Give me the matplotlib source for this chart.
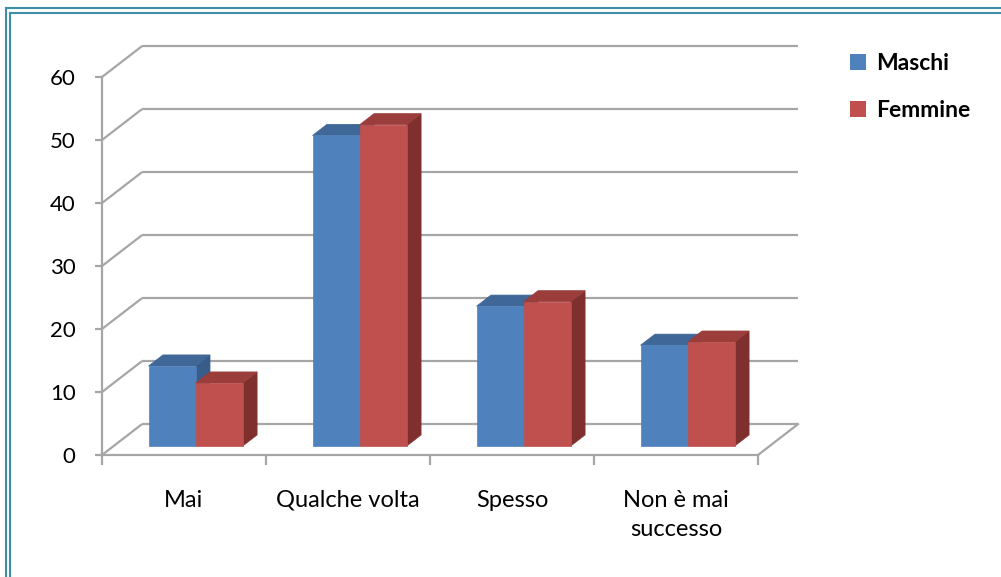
import matplotlib.pyplot as plt
from matplotlib.patches import Polygon, Patch
from matplotlib.lines import Line2D

categories = ["Mai", "Qualche volta", "Spesso", "Non è mai\nsuccesso"]
maschi = [12.7, 49.3, 22.2, 16.0]
femmine = [10.0, 51.0, 22.9, 16.5]
series_names = ["Maschi", "Femmine"]
y_ticks = [0, 10, 20, 30, 40, 50, 60]

plt.rcParams["font.family"] = ["Lato", "DejaVu Sans"]

# oblique depth of the box, in data units (category, value)
DX = 0.244
DY = 4.9
grid_col = "#a6a6a6"

# face colours: front, top, side
blue = ("#4f81bd", "#3f6797", "#385d8a")
red = ("#c0504d", "#9b3d3a", "#7f302e")


def proj(x, y, d):
    return (x + d * DX, y + d * DY)


def box(ax, x0, x1, h, cols, d0=0.29, d1=0.65):
    front = [proj(x0, 0, d0), proj(x1, 0, d0), proj(x1, h, d0), proj(x0, h, d0)]
    side = [proj(x1, 0, d0), proj(x1, 0, d1), proj(x1, h, d1), proj(x1, h, d0)]
    top = [proj(x0, h, d0), proj(x1, h, d0), proj(x1, h, d1), proj(x0, h, d1)]
    for pts, c in [(side, cols[2]), (top, cols[1]), (front, cols[0])]:
        ax.add_patch(Polygon(pts, closed=True, facecolor=c, edgecolor=c,
                             linewidth=0.5, zorder=3, clip_on=False))


fig = plt.figure(figsize=(10.01, 5.77), dpi=100)
ax = fig.add_axes([102 / 1001, 122 / 577, 656 / 1001, 378 / 577])
ax.set_xlim(-0.5, 3.5)
ax.set_ylim(0, 60)

# walls: side diagonals and back gridlines
for v in y_ticks:
    ax.plot([-0.5, -0.5 + DX], [v, v + DY], color=grid_col, lw=1.6,
            clip_on=False, zorder=1, solid_capstyle="butt")
    ax.plot([-0.5 + DX, 3.5 + DX], [v + DY, v + DY], color=grid_col, lw=1.6,
            clip_on=False, zorder=1, solid_capstyle="butt")
ax.plot([3.5, 3.5 + DX], [0, DY], color=grid_col, lw=1.6, clip_on=False, zorder=1)

w = 0.287
for i in range(len(categories)):
    box(ax, i - w, i, maschi[i], blue)
    box(ax, i, i + w, femmine[i], red)

for s in ["top", "right"]:
    ax.spines[s].set_visible(False)
for s in ["left", "bottom"]:
    ax.spines[s].set_color(grid_col)
    ax.spines[s].set_linewidth(1.6)

ax.set_yticks(y_ticks)
ax.tick_params(axis="y", length=5, width=1.6, color=grid_col, pad=14,
               labelsize=16, labelcolor="black")
for lab in ax.get_yticklabels():
    lab.set_va("center_baseline")
ax.set_xticks([-0.5, 0.5, 1.5, 2.5, 3.5])
ax.set_xticklabels([])
ax.set_xticks(range(len(categories)), minor=True)
ax.set_xticklabels(categories, minor=True, fontsize=17, linespacing=1.5)
ax.tick_params(axis="x", which="major", length=7, width=1.6, color=grid_col)
ax.tick_params(axis="x", which="minor", length=0, pad=25)

handles = [Patch(facecolor=blue[0], label=series_names[0]),
           Patch(facecolor=red[0], label=series_names[1])]
fig.legend(handles=handles, loc="upper left", bbox_to_anchor=(850 / 1001, 1 - 53 / 577),
           frameon=False, prop={"weight": "bold", "size": 16.5}, handlelength=0.7,
           handleheight=0.7, handletextpad=0.45, labelspacing=1.15,
           borderpad=0, borderaxespad=0)

# double frame along the top and left edges
frame_col = "#3d8fa8"
for off in (5.5, 10):
    fig.add_artist(Line2D([off / 1001, off / 1001], [0, 1 - (off + 2.5) / 577],
                          transform=fig.transFigure, color=frame_col, lw=1.5))
    fig.add_artist(Line2D([off / 1001, 1], [1 - (off + 2.5) / 577, 1 - (off + 2.5) / 577],
                          transform=fig.transFigure, color=frame_col, lw=1.5))

fig.savefig("out.png", dpi=100)
